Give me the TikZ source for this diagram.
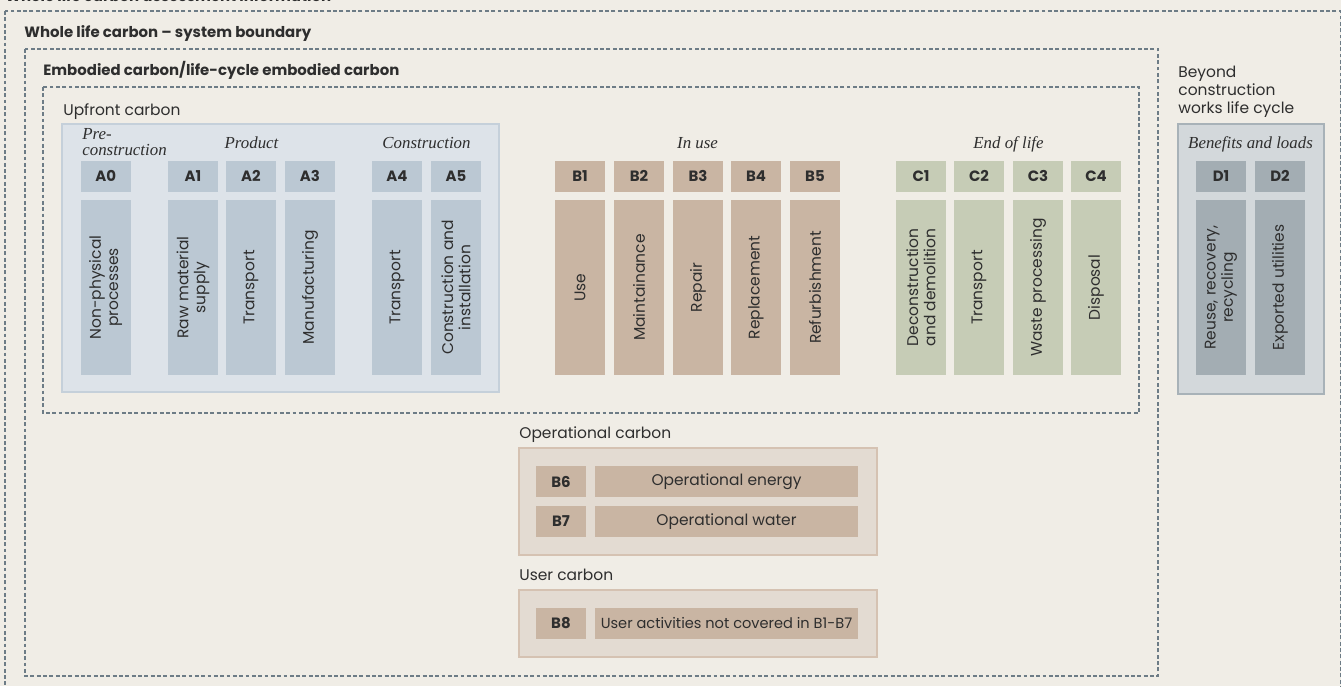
\documentclass[tikz,border=0pt]{standalone}
\usepackage{fontspec}
\setmainfont{Poppins}
\newfontfamily\phasefont{Liberation Serif}
\usepackage{tikz}
\usetikzlibrary{positioning}
\definecolor{bgcream}{HTML}{F0EDE6}
\definecolor{dashgrey}{HTML}{6D7C86}
\definecolor{inktext}{HTML}{2E2E2E}
\definecolor{upfill}{HTML}{DDE3E9}
\definecolor{upline}{HTML}{C5D0DA}
\definecolor{stagea}{HTML}{BBC8D3}
\definecolor{stageb}{HTML}{C9B5A3}
\definecolor{stagec}{HTML}{C6CCB6}
\definecolor{dfill}{HTML}{D3D8DB}
\definecolor{dline}{HTML}{A8B2B8}
\definecolor{staged}{HTML}{A3ADB3}
\definecolor{opfill}{HTML}{E3DBD2}
\definecolor{opline}{HTML}{D5C2B2}
\tikzset{
  boundary/.style={draw=dashgrey, line width=0.7pt, dash pattern=on 2.2pt off 1.4pt},
  panel/.style={line width=0.8pt},
  hdr/.style={rectangle, minimum width=1cm, minimum height=0.614cm, inner sep=0pt, text=inktext, font=\fontsize{8.5}{10}\selectfont\bfseries},
  tall/.style={rectangle, rotate=90, minimum width=3.5cm, minimum height=1cm, inner sep=0pt, align=center, text=inktext, font=\fontsize{8.8}{9.8}\selectfont},
  wide/.style={rectangle, minimum width=5.26cm, minimum height=0.614cm, inner sep=0pt, text=inktext, font=\fontsize{8.8}{10}\selectfont},
  phase/.style={anchor=base, inner sep=0pt, text=inktext, font=\phasefont\itshape\fontsize{9.6}{9}\selectfont},
  heading/.style={anchor=base west, inner sep=0pt, text=inktext, font=\fontsize{8.5}{10}\selectfont\bfseries},
  caption/.style={anchor=base west, inner sep=0pt, text=inktext, font=\fontsize{8.8}{10.2}\selectfont},
}
% header box above a tall rotated box
\newcommand{\stage}[5]{%
  \node[hdr, fill=#5] (#1) at (#2,176.3) {#3};
  \node[tall, fill=#5] (#1-t) at (#2,287.5) {#4};}

\begin{document}
\begin{tikzpicture}[x=0.02cm, y=-0.02cm]
\useasboundingbox (0,0) rectangle (1341,686);
\fill[bgcream] (0,0) rectangle (1341,686);
\clip (0,0) rectangle (1341,686);

% boundaries
\node[heading] (wlca) at (5,1.5) {Whole life carbon assessment information};
\draw[boundary] (5,11) rectangle (1340.5,720);
\node[heading] (sysb-l) at (24,38) {Whole life carbon – system boundary};
\draw[boundary] (25,49) rectangle (1158,676);
\node[heading] (emb-l) at (43,76) {Embodied carbon/life-cycle embodied carbon};
\draw[boundary] (43,87) rectangle (1139,413);

% upfront
\node[caption] (up-l) at (63,115) {Upfront carbon};
\draw[panel, fill=upfill, draw=upline] (62,124) rectangle (499,392);
\node[phase, anchor=base west, align=left] (pre) at (82,155) {Pre-\\construction};
\node[phase] (prod) at (251.5,148) {Product};
\node[phase] (cons) at (426.5,148) {Construction};
\stage{a0}{105.7}{A0}{Non-physical\\processes}{stagea}
\stage{a1}{193}{A1}{Raw material\\supply}{stagea}
\stage{a2}{251}{A2}{Transport}{stagea}
\stage{a3}{310}{A3}{Manufacturing}{stagea}
\stage{a4}{397}{A4}{Transport}{stagea}
\stage{a5}{456}{A5}{Construction and\\installation}{stagea}

% in use
\node[phase] (inuse) at (697.5,148) {In use};
\stage{b1}{580}{B1}{Use}{stageb}
\stage{b2}{639}{B2}{Maintainance}{stageb}
\stage{b3}{698}{B3}{Repair}{stageb}
\stage{b4}{756}{B4}{Replacement}{stageb}
\stage{b5}{815}{B5}{Refurbishment}{stageb}

% end of life
\node[phase] (eol) at (1008.5,148) {End of life};
\stage{c1}{921}{C1}{Deconstruction\\and demolition}{stagec}
\stage{c2}{979}{C2}{Transport}{stagec}
\stage{c3}{1038}{C3}{Waste processing}{stagec}
\stage{c4}{1096}{C4}{Disposal}{stagec}

% beyond
\node[caption, align=left] (beyond) at (1178,113) {Beyond\\construction\\works life cycle};
\draw[panel, fill=dfill, draw=dline] (1178,124) rectangle (1324,394);
\node[phase] (benef) at (1250.5,148) {Benefits and loads};
\stage{d1}{1221}{D1}{Reuse, recovery,\\recycling}{staged}
\stage{d2}{1280}{D2}{Exported utilities}{staged}

% operational and user
\node[caption] (op-l) at (519,438) {Operational carbon};
\draw[panel, fill=opfill, draw=opline] (519,448) rectangle (877,555);
\node[hdr, fill=stageb] (b6) at (561,481.5) {B6};
\node[wide, fill=stageb] (b6-t) at (726.5,481.5) {Operational energy};
\node[hdr, fill=stageb] (b7) at (561,521.5) {B7};
\node[wide, fill=stageb] (b7-t) at (726.5,521.5) {Operational water};

\node[caption] (user-l) at (519,580) {User carbon};
\draw[panel, fill=opfill, draw=opline] (519,590) rectangle (877,657);
\node[hdr, fill=stageb] (b8) at (561,623.5) {B8};
\node[wide, fill=stageb, font=\fontsize{8.3}{10}\selectfont] (b8-t) at (726.5,623.5) {User activities not covered in B1-B7};
\end{tikzpicture}
\end{document}
